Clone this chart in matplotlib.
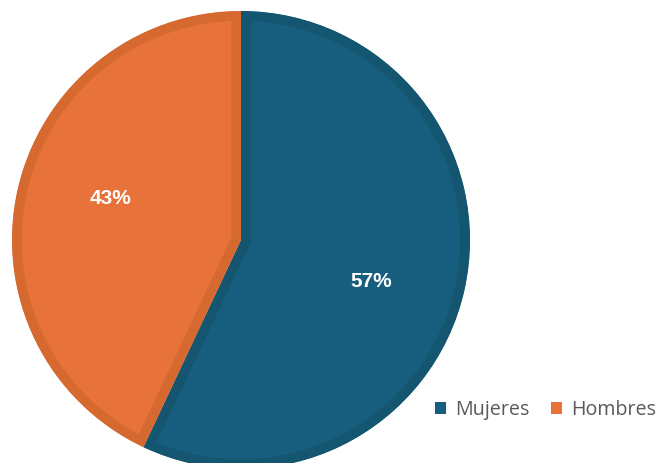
import matplotlib.pyplot as plt
from matplotlib.patches import Patch

labels = ['Mujeres', 'Hombres']
values = [57, 43]
fill_colors = ['#175e7e', '#e8733a']
edge_colors = ['#14556f', '#d5692f']

W, H = 659, 463
fig = plt.figure(figsize=(W / 100, H / 100), dpi=100)

# pie centre ~(241, 240) px, radius ~229 px
cx, cy, r = 241, 240, 229
ax = fig.add_axes([(cx - r) / W, (H - cy - r) / H, 2 * r / W, 2 * r / H])

wedges, texts, autotexts = ax.pie(
    values, colors=fill_colors, startangle=90, counterclock=False,
    autopct='%1.0f%%', pctdistance=0.6, radius=1,
    wedgeprops=dict(linewidth=14),
    textprops=dict(color='white', fontsize=15, fontweight='bold',
                   family='Liberation Sans'))
for w, ec in zip(wedges, edge_colors):
    w.set_edgecolor(ec)
    w.set_clip_path(w)  # keep the border inside the slice
    w.set_clip_on(True)

# labels sit a bit further from the horizontal than the slice middle
for t in autotexts:
    x, y = t.get_position()
    t.set_position((x * 0.97, y * 1.4))

ax.set_xlim(-1, 1)
ax.set_ylim(-1, 1)
ax.axis('off')

handles = [Patch(facecolor=c, edgecolor='none') for c in fill_colors]
fig.legend(handles, labels, loc='lower right', bbox_to_anchor=(1.022, 0.055),
           ncol=2, frameon=False, handlelength=0.55, handleheight=0.55,
           handletextpad=0.45, columnspacing=1.1,
           prop=dict(family='Open Sans', size=14.2), labelcolor='#595959')

fig.savefig('out.png', dpi=100)
